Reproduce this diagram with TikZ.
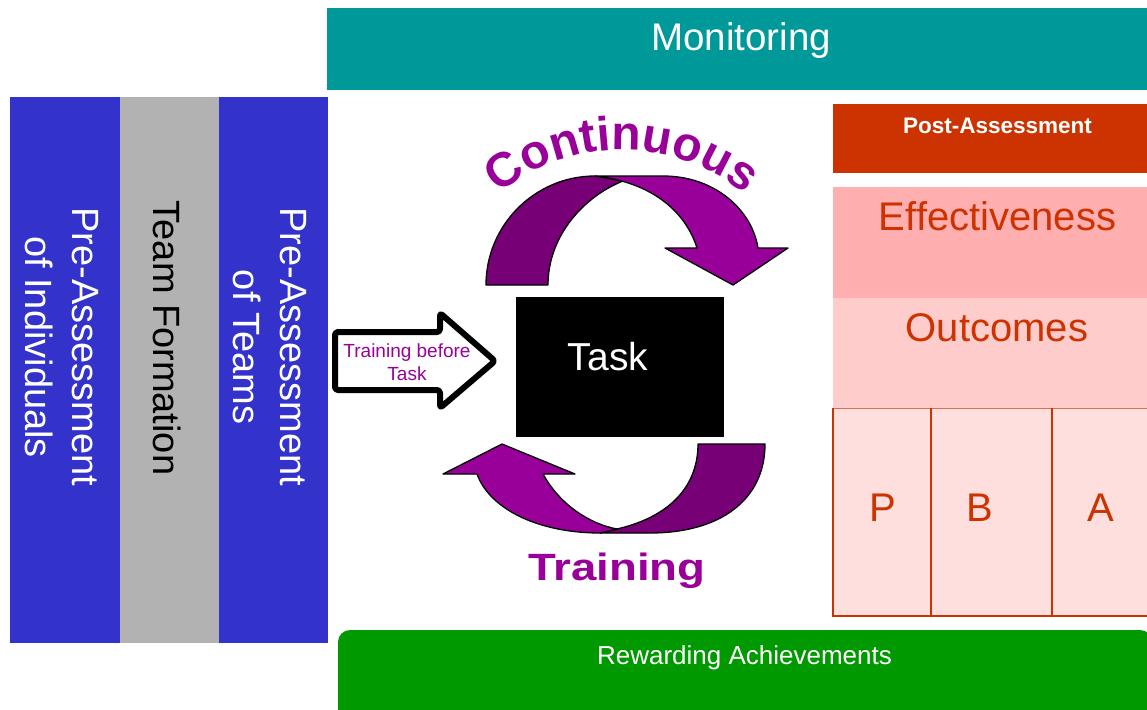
\documentclass[tikz,border=0pt]{standalone}
\usepackage{fontspec}
\setmainfont{Liberation Sans}
\usetikzlibrary{decorations.text}

\definecolor{monteal}{HTML}{009999}
\definecolor{colblue}{HTML}{3333CC}
\definecolor{colgray}{HTML}{B2B2B2}
\definecolor{purp}{HTML}{990099}
\definecolor{purpdark}{HTML}{770077}
\definecolor{postred}{HTML}{CC3300}
\definecolor{effpink}{HTML}{FFAFAF}
\definecolor{outpink}{HTML}{FFCCCC}
\definecolor{pbapink}{HTML}{FFDEDE}
\definecolor{rewgreen}{HTML}{009900}

\begin{document}
\begin{tikzpicture}[x=1pt,y=-1pt,
  lbl/.style={inner sep=0pt, outer sep=0pt, anchor=base},
  vlbl/.style={inner sep=0pt, outer sep=0pt, rotate=-90, align=center, anchor=center,
               font=\fontsize{38}{47}\selectfont},
  ribbon/.style={draw=black, line width=1.3pt, line join=round},
  bigtxt/.style={font=\fontsize{40}{42}\selectfont},
]
\useasboundingbox (0,0) rectangle (1147,709);

% top bar
\fill[monteal] (327,8) rectangle (1147,90);
\node[lbl, text=white, font=\fontsize{38.5}{40}\selectfont] (monitoring) at (741,51) {Monitoring};

% left columns
\fill[colblue] (10,97) rectangle (120,643);
\fill[colgray] (120,97) rectangle (219,643);
\fill[colblue] (219,97) rectangle (328,643);
\node[vlbl, text=white] (preind) at (62,347) {Pre-Assessment\\of Individuals};
\node[vlbl, text=black] (teamform) at (167,338) {Team Formation};
\node[vlbl, text=white] (preteam) at (270,347) {Pre-Assessment\\of Teams};

% right column
\fill[postred] (833,104) rectangle (1147,173);
\node[lbl, text=white, font=\fontsize{22.5}{24}\selectfont\bfseries] (post) at (997.5,133) {Post-Assessment};
\fill[effpink] (833,187) rectangle (1147,298);
\node[lbl, bigtxt, text=postred] (eff) at (997.5,230) {Effectiveness};
\fill[outpink] (833,298) rectangle (1147,408);
\node[lbl, bigtxt, text=postred] (out) at (997,341.5) {Outcomes};
\fill[pbapink] (833,408) rectangle (1147,616);
\draw[postred!70, line width=1pt] (833,408.5) -- (1147,408.5);
\draw[postred, line width=2pt] (833,408) -- (833,616) -- (1147,616);
\draw[postred, line width=1.5pt] (931,408) -- (931,616);
\draw[postred, line width=1.5pt] (1052,408) -- (1052,616);
\node[lbl, bigtxt, text=postred] (pp) at (883,521) {P};
\node[lbl, bigtxt, text=postred] (bb) at (980,521) {B};
\node[lbl, bigtxt, text=postred] (aa) at (1101,521) {A};

% bottom bar
\fill[rewgreen, rounded corners=12pt] (338,630) rectangle (1152,740);
\node[lbl, text=white, font=\fontsize{26}{28}\selectfont] (reward) at (744.5,664) {Rewarding Achievements};

% task
\fill[black] (516,297) rectangle (724,437);
\node[lbl, text=white, font=\fontsize{39}{41}\selectfont] (task) at (608,370) {Task};

% entry arrow
\draw[line width=6pt, line join=round, rounded corners=3pt, fill=white]
  (335,332) -- (440,332) -- (440,313) -- (495,361) -- (440,408) -- (440,390) -- (335,390) -- cycle;
\node[inner sep=0pt, align=center, text=purp, font=\fontsize{19}{23}\selectfont] (before) at (407,362.5) {Training before\\Task};

% upper curved arrow
\filldraw[ribbon, fill=purpdark]
  (486,285) .. controls (486,225) and (535,176) .. (595,176) -- (623,181)
  .. controls (585,196) and (548,235) .. (548,285) -- cycle;
\filldraw[ribbon, fill=purp]
  (595,176) -- (663,176) .. controls (715,176) and (752,210) .. (758,248)
  -- (788,248) -- (733,285) -- (665,248) -- (697,248)
  .. controls (685,210) and (650,182) .. (595,176) -- cycle;
\path[decorate, decoration={text along path, text align=center, text color=purp,
      text={|\fontsize{48}{48}\selectfont\bfseries|Continuous}}]
  (486,206) .. controls (561,131) and (683,131) .. (758,206);

% lower curved arrow
\filldraw[ribbon, fill=purpdark]
  (698,444) -- (765,444) .. controls (765,500) and (720,533) .. (650,533) -- (600,533)
  -- (617,529) .. controls (665,518) and (698,490) .. (698,444) -- cycle;
\filldraw[ribbon, fill=purp]
  (477,474) -- (443,474) -- (502,444) -- (575,474) -- (543,474)
  .. controls (560,505) and (590,524) .. (617,529) -- (600,533)
  .. controls (540,533) and (490,510) .. (477,474) -- cycle;
\node[lbl, text=purp, font=\fontsize{38}{40}\selectfont\bfseries] (training) at (617,580) {\scalebox{1.2}[1]{Training}};
\end{tikzpicture}
\end{document}
